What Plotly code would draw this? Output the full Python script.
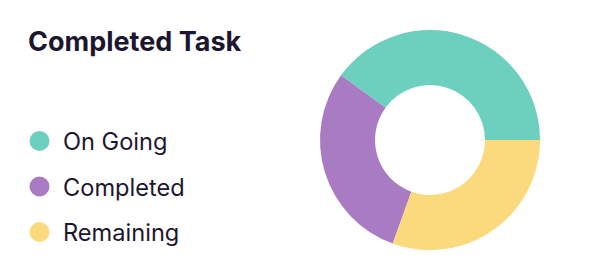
import plotly.graph_objects as go

labels = ["On Going", "Completed", "Remaining"]
values = [40, 29.5, 30.5]
colors = ["#6DCFBE", "#A87BC2", "#FBDA7D"]
title = "Completed Task"

W, H = 600, 280
fig = go.Figure()
fig.add_trace(go.Pie(
    labels=labels, values=values, hole=0.5, sort=False,
    direction="counterclockwise", rotation=-54,
    marker=dict(colors=colors, line=dict(width=0)),
    textinfo="none", hoverinfo="label+percent", showlegend=False,
    domain=dict(x=[320 / W, 540 / W], y=[30 / H, 250 / H]),
))

font_family = "Inter, Noto Sans, sans-serif"
annotations = [dict(
    text=title, x=26 / W, y=1 - 41.5 / H, xref="paper", yref="paper",
    xanchor="left", yanchor="middle", showarrow=False,
    font=dict(family=font_family, size=27, weight=700, color="#1C1730"))]
shapes = []
for i, (lab, col) in enumerate(zip(labels, colors)):
    cy = 141 + i * 45.5
    annotations.append(dict(
        text=lab, x=61 / W, y=1 - (cy + 0.5) / H, xref="paper", yref="paper",
        xanchor="left", yanchor="middle", showarrow=False,
        font=dict(family=font_family, size=23.6, color="#1C1730")))
    shapes.append(dict(
        type="circle", xref="paper", yref="paper",
        x0=(39.5 - 10) / W, x1=(39.5 + 10) / W,
        y0=1 - (cy + 10) / H, y1=1 - (cy - 10) / H,
        fillcolor=col, line=dict(width=0)))

fig.update_layout(
    width=W, height=H, margin=dict(l=0, r=0, t=0, b=0),
    paper_bgcolor="white", plot_bgcolor="white",
    annotations=annotations, shapes=shapes,
)
fig.write_html("out.html")
